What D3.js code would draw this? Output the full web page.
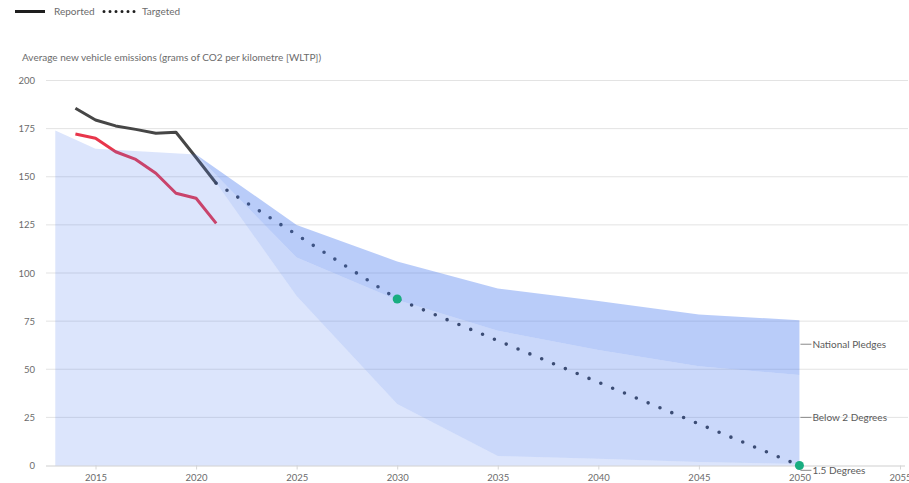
<!DOCTYPE html>
<html>
<head>
<meta charset="utf-8">
<script src="https://cdn.jsdelivr.net/npm/d3@7/dist/d3.min.js"></script>
<style>
  html, body { margin: 0; padding: 0; background: #ffffff; }
  svg { display: block; font-family: Lato, "Open Sans", sans-serif; }
</style>
</head>
<body>
<svg id="chart" width="909" height="483"></svg>
<script>
// ---------- data ----------
const reportedYears = [2014, 2015, 2016, 2017, 2018, 2019, 2020, 2021];
const reportedValues = [185.6, 179.5, 176.4, 174.6, 172.6, 173.1, 160, 146.6];
const reportedRedValues = [172.2, 170, 163, 159, 151.8, 141.4, 138.8, 125.8];

const targetYears = [2021, 2030, 2050];
const targetValues = [146.6, 86.5, 0];
const milestoneYears = [2030, 2050];
const milestoneValues = [86.5, 0];

const pathwayYears = [2013, 2015, 2020, 2025, 2030, 2035, 2040, 2045, 2050];
const pathway15 = [174, 164.5, 161.5, 88, 32, 5, 3.5, 1.8, 0.8];
const pathwayBelow2 = [174, 164.5, 161.5, 108, 86, 70, 60, 51.5, 47];
const pathwayPledges = [174, 164.5, 161.5, 125, 106, 92, 85.5, 78.5, 75.5];

const bandNames = ["1.5 Degrees", "Below 2 Degrees", "National Pledges"];
const bandLabelValues = [-2.5, 25, 63];

const yTicks = [0, 25, 50, 75, 100, 125, 150, 175, 200];
const xTicks = [2015, 2020, 2025, 2030, 2035, 2040, 2045, 2050, 2055];

const yTitle = "Average new vehicle emissions (grams of CO2 per kilometre [WLTP])";
const legendItems = ["Reported", "Targeted"];

// ---------- layout ----------
const svg = d3.select("#chart");
const x = d3.scaleLinear().domain([2013, 2055]).range([55.3, 900]);
const y = d3.scaleLinear().domain([0, 200]).range([465.5, 80.5]);
const textColor = "#6b6b6b";
const bandBlue = "rgb(79,127,240)";

// gridlines
svg.append("g").selectAll("line").data(yTicks.filter(d => d > 0)).join("line")
  .attr("x1", 46).attr("x2", 908)
  .attr("y1", d => y(d)).attr("y2", d => y(d))
  .attr("stroke", "#e3e3e3").attr("stroke-width", 1);

// x axis
const xAxis = d3.axisBottom(x).tickValues(xTicks).tickFormat(d3.format("d")).tickSize(4).tickPadding(5);
const gx = svg.append("g").attr("transform", `translate(0,${y(0)})`).call(xAxis);
gx.select(".domain").attr("d", `M46,0.5H905`).attr("stroke", "#cfcfcf");
gx.selectAll(".tick line").attr("stroke", "#d6d6d6");
gx.selectAll(".tick text").attr("fill", textColor).style("font-size", "9.5px").style("font-family", "Lato, sans-serif");

// y axis labels
const yAxis = d3.axisLeft(y).tickValues(yTicks).tickSize(0).tickPadding(0);
const gy = svg.append("g").attr("transform", "translate(35,0)").call(yAxis);
gy.select(".domain").remove();
gy.selectAll(".tick text").attr("fill", textColor).style("font-size", "9.5px").style("font-family", "Lato, sans-serif");

// y title
svg.append("text").attr("x", 22).attr("y", 61)
  .attr("fill", textColor).style("font-size", "10px").text(yTitle);

// lines (drawn below translucent bands)
const line = d3.line().x(d => x(d[0])).y(d => y(d[1]));
svg.append("path").datum(d3.zip(reportedYears, reportedRedValues)).attr("d", line)
  .attr("fill", "none").attr("stroke", "#e8364b").attr("stroke-width", 3).attr("stroke-linejoin", "round");
svg.append("path").datum(d3.zip(reportedYears, reportedValues)).attr("d", line)
  .attr("fill", "none").attr("stroke", "#464646").attr("stroke-width", 3).attr("stroke-linejoin", "round");
svg.append("path").datum(d3.zip(targetYears, targetValues)).attr("d", line)
  .attr("fill", "none").attr("stroke", "#33373f").attr("stroke-width", 3.6)
  .attr("stroke-linecap", "round").attr("stroke-dasharray", "0 12.8").attr("stroke-dashoffset", -12.8);

// bands
const bounds = [d3.range(pathwayYears.length).map(() => 0), pathway15, pathwayBelow2, pathwayPledges];
const opac = [0.2, 0.3, 0.4];
const area = d3.area().x(d => x(d.year)).y0(d => y(d.lo)).y1(d => y(d.hi));
for (let i = 0; i < 3; i++) {
  const data = pathwayYears.map((yr, j) => ({ year: yr, lo: bounds[i][j], hi: bounds[i + 1][j] }));
  svg.append("path").datum(data).attr("d", area)
    .attr("fill", bandBlue).attr("fill-opacity", opac[i]);
}

// milestone dots
svg.append("g").selectAll("circle").data(d3.zip(milestoneYears, milestoneValues)).join("circle")
  .attr("cx", d => x(d[0])).attr("cy", d => y(d[1])).attr("r", 4.5).attr("fill", "#19ad80");

// band labels
const xl = x(2050);
const lab = svg.append("g").selectAll("g").data(d3.zip(bandNames, bandLabelValues)).join("g")
  .attr("transform", d => `translate(${xl},${y(d[1])})`);
lab.append("line").attr("x1", 1).attr("x2", 12).attr("y1", 0).attr("y2", 0)
  .attr("stroke", "#8a8a8a").attr("stroke-width", 1);
lab.append("text").attr("x", 13).attr("y", 4).attr("fill", "#5a5a5a")
  .style("font-size", "10px").text(d => d[0]);

// legend
const lg = svg.append("g");
lg.append("line").attr("x1", 15).attr("x2", 45).attr("y1", 11.5).attr("y2", 11.5)
  .attr("stroke", "#1e1e1e").attr("stroke-width", 3);
lg.append("text").attr("x", 54).attr("y", 15).attr("fill", textColor).style("font-size", "10px").text(legendItems[0]);
lg.append("line").attr("x1", 104).attr("x2", 135).attr("y1", 11.5).attr("y2", 11.5)
  .attr("stroke", "#1e1e1e").attr("stroke-width", 3).attr("stroke-linecap", "round").attr("stroke-dasharray", "0 6");
lg.append("text").attr("x", 142).attr("y", 15).attr("fill", textColor).style("font-size", "10px").text(legendItems[1]);
</script>
</body>
</html>
